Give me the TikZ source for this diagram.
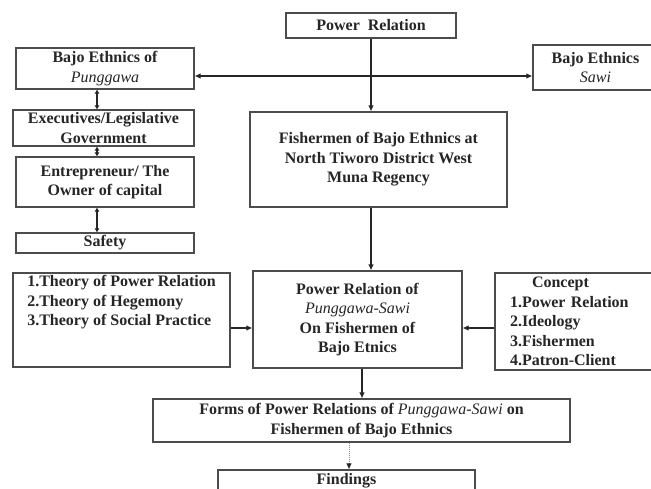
\documentclass[tikz,border=0pt]{standalone}
\usepackage{fontspec}
\setmainfont{Liberation Serif}
\usetikzlibrary{arrows.meta}
\begin{document}
\begin{tikzpicture}[x=1pt,y=-1pt,
  box/.style={draw=black!70, line width=1.1pt, fill=white, align=center, inner sep=2pt,
    font=\bfseries\fontsize{16}{19.5}\selectfont, text=black!85},
  arr/.style={draw=black!85, line width=1.1pt, -{Latex[length=6pt,width=5.5pt]}},
  darr/.style={draw=black!85, line width=1.1pt, {Latex[length=4pt,width=5pt]}-{Latex[length=4pt,width=5pt]}},
  dotarr/.style={draw=black!45, line width=1pt, densely dotted, -{Latex[length=6pt,width=5.5pt,color=black!85]}}
]
\useasboundingbox (0,0) rectangle (651,488);
\fill[white] (0,0) rectangle (651,488);
\newcommand{\itm}[1]{{\mdseries\itshape #1}}

\node[box, minimum width=170, minimum height=25] (power) at (371,25.5) {Power\ \ Relation};
\node[box, minimum width=178, minimum height=41] (pung) at (105,68.5) {Bajo Ethnics of\\ \itm{Punggawa}};
\node[box, minimum width=125, minimum height=45] (sawi) at (595.5,67.5) {Bajo Ethnics\\ \itm{Sawi}};
\node[box, minimum width=181, minimum height=36] (exec) at (103.5,128) {Executives/Legislative\\ Government};
\node[box, minimum width=178, minimum height=50] (entre) at (105,182) {Entrepreneur/ The\\ Owner of capital};
\node[box, minimum width=178, minimum height=20, inner sep=0pt] (safety) at (105,243) {Safety};
\node[box, minimum width=257, minimum height=95] (fisher) at (378.5,159.5) {Fishermen of Bajo Ethnics at\\ North Tiworo District West\\ Muna Regency};
\node[box, minimum width=217, minimum height=94, align=left] (theory) at (121.5,320) {1.Theory of Power Relation\\ 2.Theory of Hegemony\\ 3.Theory of Social Practice\\ ~\\ ~};
\node[box, minimum width=209, minimum height=97] (prel) at (357.5,319.5) {Power Relation of\\ \itm{Punggawa-Sawi}\\ On Fishermen of\\ Bajo Etnics};
\node[box, text width=131pt, inner xsep=15pt, minimum height=97, align=left] (concept) at (575.5,321.5) {\hspace*{22pt}Concept\\ 1.Power Relation\\ 2.Ideology\\ 3.Fishermen\\ 4.Patron-Client};
\node[box, minimum width=417, minimum height=43] (forms) at (361.5,420.5) {Forms of Power Relations of \itm{Punggawa-Sawi} on\\ Fishermen of Bajo Ethnics};
\node[box, minimum width=257, minimum height=22, inner sep=0pt] (find) at (346.5,481) {Findings};

\coordinate (j) at (371,76);
\coordinate (dx) at (97,0);
\coordinate (ya) at (0,328);
\coordinate (xb) at (362,0);
\coordinate (xc) at (349,0);

\draw[arr] (power.south -| j) -- (j |- fisher.north);
\fill[black!85] (j) circle (1.4pt);
\draw[arr] (j) -- (j -| pung.east);
\draw[arr] (j) -- (j -| sawi.west);

\draw[darr] (dx |- pung.south) -- (dx |- exec.north);
\draw[darr] (dx |- exec.south) -- (dx |- entre.north);
\draw[darr] (dx |- entre.south) -- (dx |- safety.north);

\draw[arr] (j |- fisher.south) -- (j |- prel.north);
\draw[arr] (ya -| theory.east) -- (ya -| prel.west);
\draw[arr] (ya -| concept.west) -- (ya -| prel.east);
\draw[arr] (xb |- prel.south) -- (xb |- forms.north);
\draw[dotarr] (xc |- forms.south) -- (xc |- find.north);
\end{tikzpicture}
\end{document}
